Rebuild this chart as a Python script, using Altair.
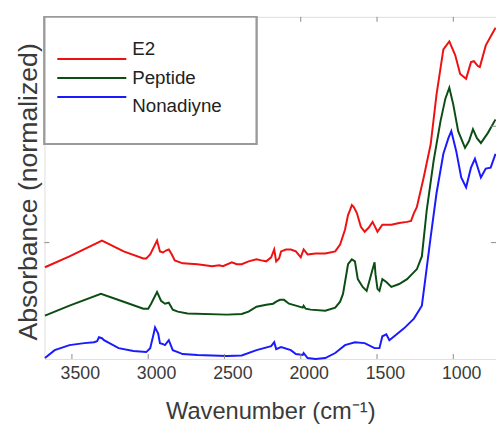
import altair as alt
import pandas as pd

series_names = ["E2", "Peptide", "Nonadiyne"]
series_colors = ["#ee1111", "#0b4d12", "#1a1aff"]

e2_wn = [3677, 3516, 3303, 3161, 3032, 3013, 2987, 2942, 2923, 2903, 2884, 2865, 2845, 2826,
         2774, 2677, 2581, 2535, 2510, 2452, 2419, 2387, 2342, 2290, 2258, 2226, 2194, 2174,
         2161, 2142, 2129, 2097, 2065, 2032, 2000, 1981, 1955, 1903, 1839, 1774, 1742, 1710,
         1690, 1677, 1665, 1652, 1632, 1606, 1581, 1555, 1529, 1516, 1497, 1465, 1406, 1355,
         1303, 1277, 1258, 1239, 1194, 1148, 1110, 1065, 1026, 987, 955, 916, 884, 865, 839,
         826, 787, 723]
e2_abs = [0.788, 0.881, 1.017, 0.924, 0.864, 0.864, 0.898, 1.017, 0.924, 0.915, 0.932, 0.941,
          0.898, 0.847, 0.822, 0.814, 0.797, 0.805, 0.797, 0.831, 0.814, 0.814, 0.839, 0.856,
          0.847, 0.839, 0.873, 0.941, 0.839, 0.864, 0.924, 0.941, 0.941, 0.924, 0.873, 0.941,
          0.898, 0.907, 0.907, 0.924, 0.983, 1.110, 1.237, 1.280, 1.322, 1.305, 1.254, 1.136,
          1.093, 1.127, 1.178, 1.144, 1.093, 1.153, 1.153, 1.169, 1.178, 1.186, 1.254, 1.305,
          1.559, 1.847, 2.271, 2.661, 2.729, 2.610, 2.449, 2.407, 2.551, 2.559, 2.517, 2.508,
          2.695, 2.847]

pep_wn = [3677, 3516, 3310, 3161, 3032, 3000, 2981, 2942, 2916, 2890, 2865, 2839, 2806, 2742,
          2484, 2387, 2342, 2290, 2226, 2181, 2161, 2136, 2110, 2077, 2032, 1987, 1981, 1968,
          1935, 1839, 1774, 1742, 1723, 1690, 1665, 1645, 1626, 1594, 1568, 1529, 1516, 1510,
          1497, 1484, 1465, 1439, 1406, 1355, 1303, 1258, 1239, 1206, 1174, 1129, 1084, 1052,
          1026, 1000, 968, 923, 897, 871, 845, 819, 774, 723]
pep_abs = [0.373, 0.458, 0.559, 0.492, 0.432, 0.432, 0.475, 0.576, 0.500, 0.475, 0.483, 0.424,
           0.407, 0.390, 0.381, 0.386, 0.407, 0.449, 0.466, 0.475, 0.492, 0.508, 0.508, 0.475,
           0.458, 0.441, 0.458, 0.432, 0.424, 0.415, 0.441, 0.492, 0.559, 0.814, 0.856, 0.839,
           0.686, 0.619, 0.585, 0.771, 0.831, 0.729, 0.602, 0.585, 0.686, 0.661, 0.619, 0.644,
           0.686, 0.746, 0.771, 0.881, 1.280, 1.703, 2.042, 2.237, 2.331, 2.186, 1.958, 1.814,
           1.873, 1.975, 1.898, 1.856, 1.941, 2.059]

non_wn = [3677, 3613, 3516, 3419, 3355, 3335, 3323, 3303, 3290, 3194, 3097, 3013, 2987, 2968,
          2955, 2942, 2935, 2923, 2903, 2890, 2865, 2839, 2806, 2774, 2677, 2484, 2387, 2290,
          2194, 2174, 2161, 2129, 2065, 2032, 1987, 1981, 1955, 1903, 1839, 1774, 1710, 1645,
          1581, 1516, 1484, 1465, 1439, 1419, 1387, 1323, 1258, 1206, 1181, 1148, 1110, 1065,
          1032, 1013, 981, 948, 916, 884, 858, 819, 787, 755, 723]
non_abs = [0.008, 0.076, 0.119, 0.136, 0.144, 0.153, 0.186, 0.178, 0.161, 0.093, 0.068, 0.059,
           0.093, 0.195, 0.271, 0.237, 0.220, 0.136, 0.127, 0.119, 0.161, 0.076, 0.059, 0.042,
           0.034, 0.025, 0.030, 0.076, 0.110, 0.144, 0.085, 0.102, 0.076, 0.042, 0.034, 0.051,
           0.008, 0.000, 0.008, 0.051, 0.119, 0.144, 0.136, 0.093, 0.093, 0.195, 0.212, 0.161,
           0.195, 0.263, 0.347, 0.458, 0.712, 1.051, 1.424, 1.763, 1.898, 1.958, 1.788, 1.559,
           1.475, 1.644, 1.720, 1.559, 1.636, 1.644, 1.763]

x_ticks = [3500, 3000, 2500, 2000, 1500, 1000]
y_ticks = [1, 2]

frames = []
for name, wn, ab in [("E2", e2_wn, e2_abs), ("Peptide", pep_wn, pep_abs), ("Nonadiyne", non_wn, non_abs)]:
    frames.append(pd.DataFrame({"wn": wn, "abs": ab, "series": name}))
df = pd.concat(frames, ignore_index=True)
df["order"] = df.groupby("series").cumcount()

W, H = 458, 347
yscale = alt.Scale(domain=[0, 2.94], nice=False, zero=False)
cscale = alt.Scale(domain=series_names, range=series_colors)
axis_col = "#8a8a8a"
text_col = "#3a3a3a"

lines = alt.Chart(df).mark_line(strokeWidth=2).encode(
    x=alt.X("wn:Q", scale=alt.Scale(domain=[3680, 720], nice=False, zero=False),
            axis=alt.Axis(values=x_ticks, format="d", ticks=False, domain=False, grid=False,
                          labelFontSize=18, labelColor=text_col, labelPadding=6, labelOffset=8,
                          title="Wavenumber (cm⁻¹)", titleFontSize=24, titleFontWeight="normal",
                          titleColor=text_col, titleBaseline="alphabetic", titleY=60,
                          labelFont="Liberation Sans", titleFont="Liberation Sans")),
    y=alt.Y("abs:Q", scale=yscale,
            axis=alt.Axis(values=y_ticks, labels=False, ticks=False, domain=False, grid=False,
                          title="Absorbance (normalized)", titleFontSize=27,
                          titleFontWeight="normal", titleColor=text_col,
                          titleBaseline="alphabetic", titleX=-8, titleY=177,
                          titleFont="Liberation Sans")),
    color=alt.Color("series:N", scale=cscale, legend=None),
    order="order:Q",
    detail="series:N",
)

xt = pd.DataFrame({"t": x_ticks})
yt = pd.DataFrame({"t": y_ticks})
tick_b = alt.Chart(xt).mark_rule(color=axis_col, strokeWidth=1).encode(
    x="t:Q", y=alt.value(H), y2=alt.value(H - 5))
tick_t = alt.Chart(xt).mark_rule(color=axis_col, strokeWidth=1).encode(
    x="t:Q", y=alt.value(0), y2=alt.value(5))
tick_l = alt.Chart(yt).mark_rule(color=axis_col, strokeWidth=1).encode(
    y=alt.Y("t:Q", scale=yscale), x=alt.value(0), x2=alt.value(5))
tick_r = alt.Chart(yt).mark_rule(color=axis_col, strokeWidth=1).encode(
    y=alt.Y("t:Q", scale=yscale), x=alt.value(W), x2=alt.value(W - 5))

leg = pd.DataFrame({"series": series_names})
leg_box = alt.Chart(leg).mark_rect(fill="white", stroke="#9a9a9a", strokeWidth=2).encode(
    x=alt.value(0), x2=alt.value(215), y=alt.value(0), y2=alt.value(129))
leg_y = alt.Y("series:N", scale=alt.Scale(domain=series_names, range=[33, 91], padding=0), axis=None)
leg_lines = alt.Chart(leg).mark_rule(strokeWidth=2).encode(
    y=leg_y, x=alt.value(13), x2=alt.value(83),
    color=alt.Color("series:N", scale=cscale, legend=None))
leg_text = alt.Chart(leg).mark_text(align="left", baseline="middle", fontSize=19,
                                    font="Liberation Sans", color="#222222").encode(
    y=leg_y, x=alt.value(89), text="series:N")

quant = alt.layer(lines, tick_b, tick_t, tick_l, tick_r, leg_box)
chart = alt.layer(quant, leg_lines, leg_text).resolve_scale(y="independent").properties(
    width=W, height=H,
    autosize=alt.AutoSizeParams(type="none"),
    padding={"left": 37, "top": 6, "right": 0, "bottom": 64},
).configure_view(stroke=axis_col, strokeWidth=1.2).configure(background="white")

chart.save("out.html", embed_options={"renderer": "svg", "actions": False})
